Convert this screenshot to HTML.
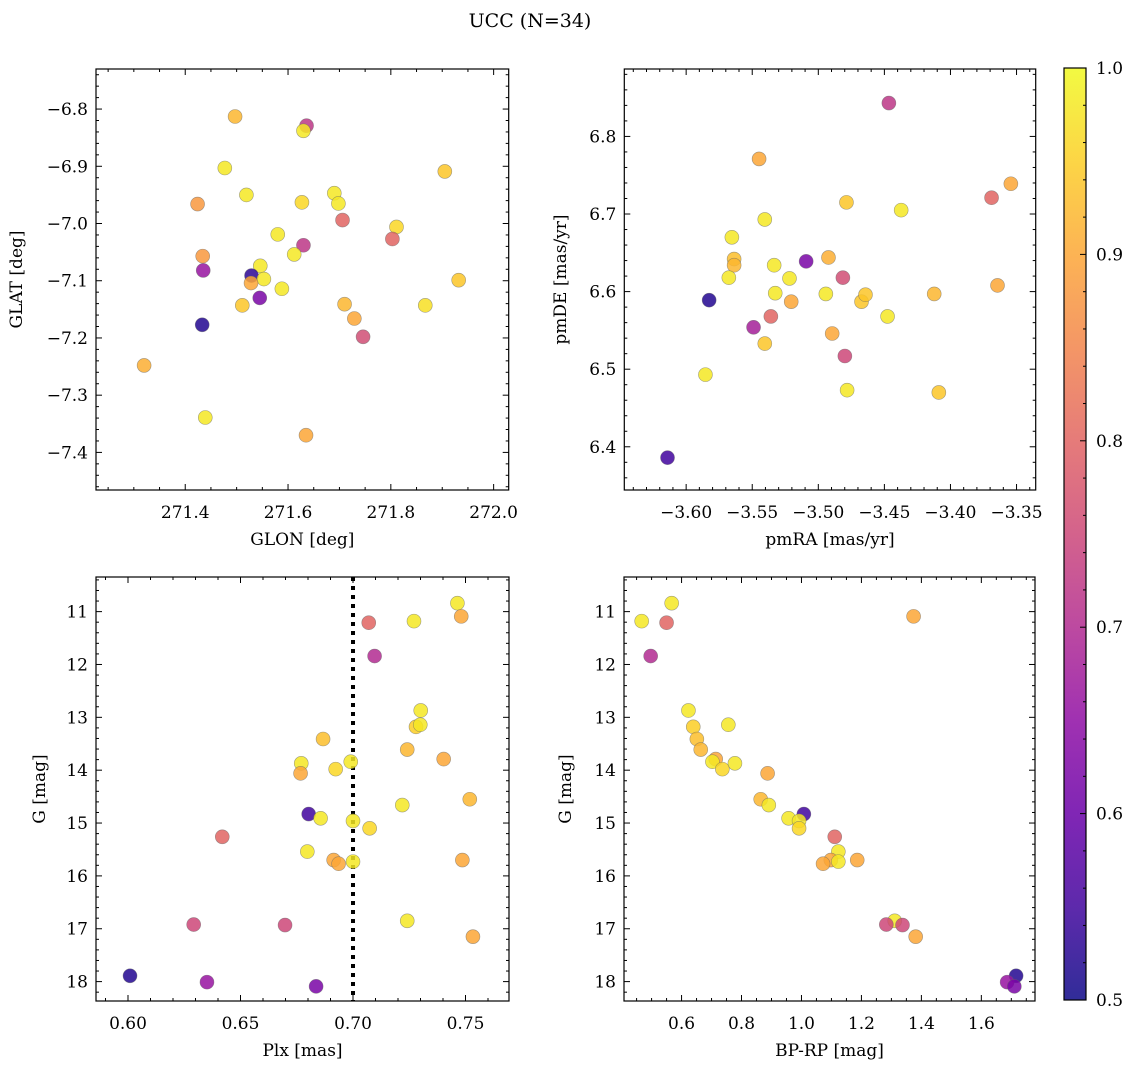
<!DOCTYPE html>
<html><head><meta charset="utf-8"><style>
body{margin:0;background:#fff;}
svg{display:block;font-family:"DejaVu Serif","Liberation Serif",serif;}
</style></head><body>
<svg id="fig" width="1136" height="1067" viewBox="0 0 1136 1067" xmlns="http://www.w3.org/2000/svg">
<text x="530" y="27" font-size="19" text-anchor="middle">UCC (N=34)</text>
<defs><linearGradient id="cbg" x1="0" y1="1" x2="0" y2="0">
<stop offset="0" stop-color="#0d0887"/><stop offset="0.1" stop-color="#41049d"/><stop offset="0.2" stop-color="#6a00a8"/><stop offset="0.3" stop-color="#8f0da4"/><stop offset="0.4" stop-color="#b12a90"/><stop offset="0.5" stop-color="#cc4778"/><stop offset="0.6" stop-color="#e16462"/><stop offset="0.7" stop-color="#f2844b"/><stop offset="0.8" stop-color="#fca636"/><stop offset="0.9" stop-color="#fcce25"/><stop offset="1" stop-color="#f0f921"/>
</linearGradient></defs>
</svg>
<script>
// Panel 1: positions
const glon=[271.497,271.636,271.630,271.477,271.905,271.519,271.690,271.424,271.698,271.627,271.706,271.811,271.580,271.803,271.630,271.612,271.434,271.546,271.435,271.529,271.553,271.528,271.932,271.588,271.545,271.511,271.867,271.710,271.729,271.433,271.746,271.320,271.439,271.635];
const glat=[-6.813,-6.829,-6.838,-6.903,-6.909,-6.950,-6.947,-6.966,-6.965,-6.963,-6.994,-7.006,-7.019,-7.027,-7.038,-7.054,-7.057,-7.074,-7.082,-7.091,-7.097,-7.104,-7.099,-7.114,-7.130,-7.143,-7.143,-7.141,-7.166,-7.177,-7.198,-7.248,-7.339,-7.370];
const probPos=[0.92,0.72,0.98,0.98,0.94,0.98,0.98,0.88,0.98,0.96,0.8,0.96,0.98,0.8,0.72,0.98,0.88,0.98,0.66,0.53,0.98,0.9,0.94,0.98,0.62,0.94,0.97,0.92,0.9,0.52,0.76,0.91,0.98,0.9];
// Panel 2: proper motions
const pmra=[-3.4466,-3.5448,-3.3543,-3.3689,-3.4787,-3.4373,-3.5405,-3.5654,-3.5637,-3.5637,-3.5092,-3.5334,-3.4923,-3.5677,-3.5218,-3.4814,-3.5326,-3.3644,-3.5826,-3.5205,-3.4943,-3.4673,-3.4643,-3.4123,-3.5490,-3.5359,-3.4476,-3.4895,-3.5405,-3.4799,-3.5854,-3.4782,-3.4088,-3.6141];
const pmde=[6.843,6.771,6.739,6.721,6.715,6.705,6.693,6.670,6.642,6.634,6.639,6.634,6.644,6.618,6.617,6.618,6.598,6.608,6.589,6.587,6.597,6.587,6.596,6.597,6.554,6.568,6.568,6.546,6.533,6.517,6.493,6.473,6.470,6.386];
const probPM=[0.72,0.9,0.9,0.8,0.94,0.98,0.98,0.98,0.93,0.92,0.62,0.98,0.91,0.98,0.98,0.76,0.98,0.9,0.52,0.9,0.98,0.94,0.94,0.92,0.68,0.8,0.98,0.9,0.94,0.75,0.98,0.98,0.94,0.55];
// Panels 3 & 4: photometry
const plx=[0.7464,0.7481,0.7070,0.7271,0.7096,0.7301,0.7280,0.7299,0.6867,0.7241,0.7403,0.6770,0.6767,0.6990,0.6923,0.7519,0.7219,0.6803,0.6856,0.7000,0.7074,0.6419,0.6797,0.6914,0.6936,0.7000,0.7486,0.7241,0.7533,0.6292,0.6698,0.6009,0.6351,0.6836];
const gmag=[10.84,11.09,11.21,11.18,11.84,12.87,13.18,13.14,13.41,13.61,13.79,13.87,14.06,13.84,13.98,14.55,14.66,14.83,14.91,14.96,15.10,15.26,15.54,15.70,15.77,15.73,15.70,16.85,17.15,16.92,16.93,17.89,18.01,18.09];
const bprp=[0.567,1.374,0.550,0.467,0.497,0.623,0.639,0.756,0.651,0.664,0.714,0.778,0.887,0.703,0.736,0.864,0.891,1.008,0.957,0.992,0.992,1.111,1.123,1.098,1.072,1.123,1.186,1.311,1.381,1.283,1.337,1.716,1.686,1.710];
const probPhot=[0.98,0.9,0.8,0.98,0.7,0.98,0.95,0.98,0.93,0.92,0.9,0.98,0.9,0.98,0.96,0.92,0.98,0.55,0.98,0.98,0.96,0.8,0.98,0.9,0.9,0.98,0.9,0.98,0.9,0.75,0.75,0.52,0.66,0.62];
const plxCut=0.70;
const cbTicks=[0.5,0.6,0.7,0.8,0.9,1.0];

const NS="http://www.w3.org/2000/svg";
const svg=document.getElementById('fig');
function mk(tag,attrs,parent){const e=document.createElementNS(NS,tag);for(const k in attrs)e.setAttribute(k,attrs[k]);(parent||svg).appendChild(e);return e;}
const stops=[[13,8,135],[65,4,157],[106,0,168],[143,13,164],[177,42,144],[204,71,120],[225,100,98],[242,132,75],[252,166,54],[252,206,37],[240,249,33]];
function plasma(p){let t=Math.max(0,Math.min(1,(p-0.5)/0.5))*10;let i=Math.min(9,Math.floor(t));let f=t-i;const a=stops[i],b=stops[i+1];return 'rgb('+a.map((v,k)=>Math.round(v+(b[k]-v)*f)).join(',')+')';}
function fmt(v,d){let s=v.toFixed(d);return s.replace('-','\u2212');}

function panel(o){
  const g=mk('g',{});
  
  
  const sx=v=>o.x0+(v-o.xmin)/(o.xmax-o.xmin)*(o.x1-o.x0);
  const sy=v=>o.yinv? o.y0+(v-o.ymin)/(o.ymax-o.ymin)*(o.y1-o.y0) : o.y1-(v-o.ymin)/(o.ymax-o.ymin)*(o.y1-o.y0);
  const eps=1e-9;
  for(let v=Math.ceil(o.xmin/o.xminor-eps)*o.xminor;v<=o.xmax+eps;v+=o.xminor){
    const major=Math.abs(v/o.xmajor-Math.round(v/o.xmajor))<1e-6;const L=major?6:3;const x=sx(v);
    const t1=mk('line',{x1:x,x2:x,y1:o.y1,y2:o.y1-L,stroke:'#000','stroke-width':1},g);
    
    mk('line',{x1:x,x2:x,y1:o.y0,y2:o.y0+L,stroke:'#000','stroke-width':1},g);
    if(major){const t=mk('text',{x:x,y:o.y1+28,'font-size':17,'text-anchor':'middle'},g);t.textContent=fmt(Math.round(v/o.xmajor)*o.xmajor,o.xd);
      }
  }
  const ylo=Math.min(o.ymin,o.ymax),yhi=Math.max(o.ymin,o.ymax);
  for(let v=Math.ceil(ylo/o.yminor-eps)*o.yminor;v<=yhi+eps;v+=o.yminor){
    const major=Math.abs(v/o.ymajor-Math.round(v/o.ymajor))<1e-6;const L=major?6:3;const y=sy(v);
    const t1=mk('line',{x1:o.x0,x2:o.x0+L,y1:y,y2:y,stroke:'#000','stroke-width':1},g);
    
    mk('line',{x1:o.x1,x2:o.x1-L,y1:y,y2:y,stroke:'#000','stroke-width':1},g);
    if(major){const t=mk('text',{x:o.x0-8,y:y+6,'font-size':17,'text-anchor':'end'},g);t.textContent=fmt(Math.round(v/o.ymajor)*o.ymajor,o.yd);
      }
  }
  if(o.vline!==undefined){const l=mk('line',{x1:sx(o.vline),x2:sx(o.vline),y1:o.y0,y2:o.y1,stroke:'#000','stroke-width':4,'stroke-dasharray':'4 5'},g);
    }
  for(let i=0;i<o.xs.length;i++){
    const c=mk('circle',{cx:sx(o.xs[i]),cy:sy(o.ys[i]),r:7,fill:plasma(o.cs[i]),'fill-opacity':0.85,stroke:'#666','stroke-opacity':0.6,'stroke-width':0.6},g);
    
    
  }
  const fr=mk('rect',{x:o.x0,y:o.y0,width:o.x1-o.x0,height:o.y1-o.y0,fill:'none',stroke:'#000','stroke-width':1.2},g);
  
  const xl=mk('text',{x:(o.x0+o.x1)/2,y:o.y1+55,'font-size':17,'text-anchor':'middle'},g);xl.textContent=o.xlabel;
  
  const yx=o.ylx,yy=(o.y0+o.y1)/2;
  const yl=mk('text',{x:yx,y:yy,'font-size':17,'text-anchor':'middle',transform:'rotate(-90 '+yx+' '+yy+')'},g);yl.textContent=o.ylabel;
  
}
panel({name:'position-panel',x0:96,x1:508.7,y0:69,y1:490,xmin:271.2264,xmax:272.0293,ymin:-7.4657,ymax:-6.7300,xmajor:0.2,xminor:0.05,ymajor:0.1,yminor:0.02,xd:1,yd:1,xs:glon,ys:glat,cs:probPos,xlabel:'GLON [deg]',ylabel:'GLAT [deg]',ylx:22});
panel({name:'proper-motion-panel',x0:624.3,x1:1035.7,y0:69,y1:490,xmin:-3.6468,xmax:-3.3355,ymin:6.3443,ymax:6.8869,xmajor:0.05,xminor:0.01,ymajor:0.1,yminor:0.02,xd:2,yd:1,xs:pmra,ys:pmde,cs:probPM,xlabel:'pmRA [mas/yr]',ylabel:'pmDE [mas/yr]',ylx:566});
panel({name:'parallax-panel',x0:96,x1:509,y0:577,y1:1001,xmin:0.58578,xmax:0.76933,ymin:10.345,ymax:18.367,yinv:true,xmajor:0.05,xminor:0.01,ymajor:1,yminor:0.2,xd:2,yd:0,xs:plx,ys:gmag,cs:probPhot,vline:plxCut,xlabel:'Plx [mas]',ylabel:'G [mag]',ylx:45});
panel({name:'cmd-panel',x0:624,x1:1035,y0:577,y1:1001,xmin:0.408,xmax:1.779,ymin:10.345,ymax:18.367,yinv:true,xmajor:0.2,xminor:0.05,ymajor:1,yminor:0.2,xd:1,yd:0,xs:bprp,ys:gmag,cs:probPhot,xlabel:'BP-RP [mag]',ylabel:'G [mag]',ylx:571});

const cb=mk('g',{});


const cy0=68,cy1=1000,cx0=1064,cx1=1086;
mk('rect',{x:cx0,y:cy0,width:cx1-cx0,height:cy1-cy0,fill:'url(#cbg)','fill-opacity':0.85},cb);
const csy=v=>cy1-(v-0.5)/0.5*(cy1-cy0);
for(let k=0;k<=25;k++){const v=0.5+k*0.02;const major=k%5===0;const y=csy(v);
  mk('line',{x1:cx1,x2:cx1-(major?6:3),y1:y,y2:y,stroke:'#000','stroke-width':1},cb);}
cbTicks.forEach(v=>{const t=mk('text',{x:cx1+10,y:csy(v)+6,'font-size':17},cb);t.textContent=v.toFixed(1);
  });
mk('rect',{x:cx0,y:cy0,width:cx1-cx0,height:cy1-cy0,fill:'none',stroke:'#000','stroke-width':1.2},cb);
</script>
</body></html>
